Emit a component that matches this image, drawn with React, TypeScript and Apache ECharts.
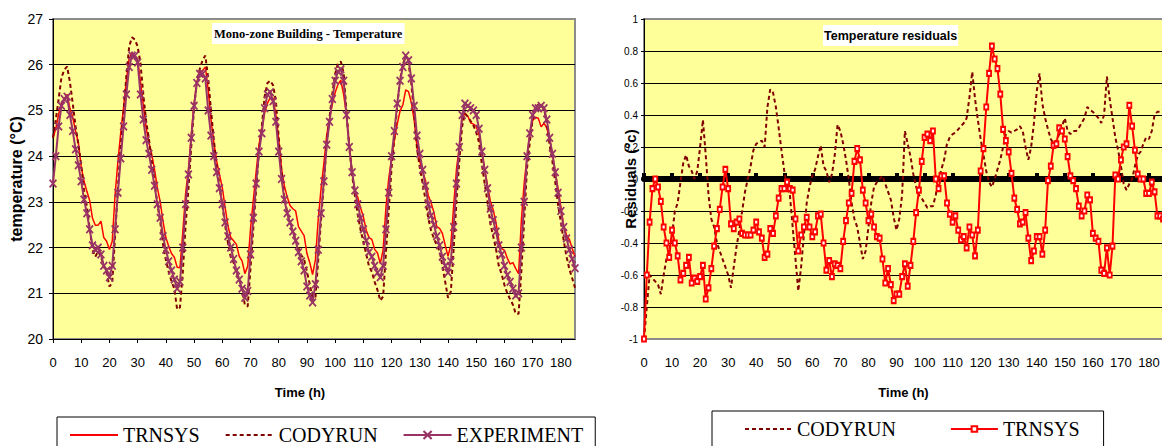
import React, { useEffect, useRef } from "react";
import * as echarts from "echarts";

const HOURS: string[] = Array.from({ length: 186 }, (_, i) => String(i));

const TEMP_TICKS = { min: 20, max: 27, interval: 1 };
const RES_TICKS = { min: -1, max: 1, interval: 0.2 };

const EXPERIMENT = [
  23.4, 24.0, 24.65, 25.1, 25.25, 25.3, 24.9, 24.55, 24.15, 23.8,
  23.45, 23.05, 22.75, 22.4, 22.05, 21.95, 22.0, 21.85, 21.6, 21.5,
  21.35, 21.6, 22.4, 23.2, 23.95, 24.65, 25.35, 25.95, 26.2, 26.2,
  26.05, 25.35, 24.8, 24.35, 24.05, 23.7, 23.35, 22.95, 22.65, 22.25,
  21.95, 21.7, 21.5, 21.3, 21.1, 21.25, 22.0, 22.95, 23.6, 24.4,
  25.1, 25.6, 25.8, 25.8, 25.7, 25.0, 24.45, 24.0, 23.65, 23.3,
  22.95, 22.55, 22.25, 22.0, 21.75, 21.5, 21.3, 21.1, 20.9, 21.05,
  21.85, 22.65, 23.4, 24.1, 24.5, 25.05, 25.35, 25.4, 25.2, 24.75,
  24.1, 23.5, 23.05, 22.75, 22.55, 22.35, 22.15, 21.9, 21.7, 21.5,
  21.15, 20.95, 20.8, 21.2, 21.95, 22.75, 23.45, 24.25, 24.75, 25.25,
  25.65, 25.85, 25.9, 25.65, 24.9, 24.2, 23.65, 23.25, 22.95, 22.65,
  22.4, 22.15, 21.9, 21.8, 21.6, 21.45, 21.35, 21.6, 22.4, 23.2,
  24.0, 24.55, 25.15, 25.65, 25.95, 26.2, 26.1, 25.7, 25.1, 24.45,
  24.05, 23.7, 23.35, 22.95, 22.7, 22.5, 22.25, 22.05, 21.8, 21.6,
  21.45, 21.7, 22.45, 23.4, 24.2, 24.9, 25.15, 25.1, 25.05, 25.0,
  24.9, 24.6, 24.1, 23.7, 23.3, 22.85, 22.6, 22.35, 22.05, 21.85,
  21.6, 21.4, 21.25, 21.1, 20.95, 21.0, 22.0, 23.0, 24.0, 24.5,
  24.9, 25.05, 25.05, 25.1, 25.05, 24.8, 24.4, 24.05, 23.65, 23.2,
  22.8, 22.45, 22.2, 21.95, 21.75, 21.55,
];

const TRNSYS = [
  24.4, 24.6, 24.92, 25.16, 25.25, 25.35, 25.04, 24.85, 24.55, 24.29,
  23.77, 23.45, 23.23, 23.03, 22.64, 22.49, 22.49, 22.58, 22.22, 22.14,
  21.96, 22.14, 23.15, 23.88, 24.51, 25.07, 25.66, 26.14, 26.25, 26.14,
  26.11, 25.63, 25.11, 24.62, 24.3, 24.04, 23.7, 23.3, 23.0, 22.57,
  22.22, 22.03, 21.87, 21.79, 21.57, 21.56, 22.34, 23.18, 23.72, 24.46,
  25.16, 25.62, 25.86, 25.87, 25.95, 25.45, 24.8, 24.3, 23.89, 23.6,
  23.31, 22.88, 22.48, 22.22, 22.15, 22.07, 21.81, 21.71, 21.43, 21.59,
  22.41, 23.04, 23.66, 24.25, 24.59, 24.94, 25.16, 25.28, 25.27, 24.9,
  24.36, 23.72, 23.35, 23.11, 22.92, 22.85, 22.8, 22.46, 22.36, 22.26,
  21.87, 21.67, 21.41, 21.73, 22.62, 23.29, 23.84, 24.46, 24.82, 25.14,
  25.39, 25.57, 25.66, 25.35, 24.9, 24.26, 23.63, 23.23, 23.1, 22.87,
  22.67, 22.38, 22.22, 22.18, 21.96, 21.88, 21.65, 21.95, 22.88, 23.52,
  23.95, 24.36, 24.7, 24.99, 25.12, 25.45, 25.41, 25.17, 24.79, 24.21,
  23.88, 23.67, 23.47, 23.14, 22.98, 22.77, 22.46, 22.42, 22.31, 22.05,
  21.81, 22.06, 22.92, 23.72, 24.21, 24.82, 24.94, 24.88, 24.73, 24.7,
  24.65, 24.46, 24.08, 23.71, 23.36, 23.02, 22.83, 22.55, 22.15, 21.98,
  21.94, 21.77, 21.64, 21.67, 21.54, 21.43, 22.6, 23.42, 23.98, 24.5,
  24.78, 24.85, 24.83, 24.64, 24.72, 24.62, 24.37, 24.05, 23.65, 23.29,
  22.89, 22.47, 22.28, 22.18, 21.98, 21.8,
];

const CODYRUN = [
  24.4, 24.8, 25.25, 25.72, 25.89, 25.96, 25.62, 25.15, 24.65, 24.25,
  23.8, 23.25, 22.9, 22.42, 21.95, 21.8, 21.92, 21.8, 21.6, 21.45,
  21.15, 21.23, 22.25, 23.3, 24.2, 24.95, 25.75, 26.4, 26.6, 26.55,
  26.4, 26.03, 25.35, 24.77, 24.37, 23.9, 23.43, 22.95, 22.57, 22.07,
  21.73, 21.47, 21.26, 21.1, 20.65, 20.69, 21.46, 22.5, 23.28, 24.22,
  25.05, 25.65, 25.9, 26.1, 26.2, 25.7, 25.0, 24.35, 23.8, 23.35,
  22.93, 22.49, 22.11, 21.79, 21.67, 21.45, 21.32, 21.07, 20.75, 20.71,
  21.55, 22.43, 23.28, 24.1, 24.65, 25.3, 25.6, 25.65, 25.55, 25.2,
  24.4, 23.65, 23.1, 22.77, 22.55, 22.33, 22.18, 21.98, 21.83, 21.74,
  21.47, 21.2, 20.9, 20.9, 21.73, 22.61, 23.42, 24.3, 24.85, 25.37,
  25.8, 26.03, 26.07, 25.82, 25.0, 24.2, 23.59, 23.13, 22.73, 22.39,
  22.12, 21.86, 21.59, 21.47, 21.25, 21.07, 20.84, 20.93, 21.9, 22.83,
  23.75, 24.4, 25.1, 25.67, 26.0, 26.2, 26.04, 25.58, 24.9, 24.17,
  23.75, 23.41, 23.05, 22.64, 22.37, 22.2, 22.05, 21.93, 21.6, 21.25,
  20.9, 21.04, 21.98, 23.02, 23.89, 24.65, 24.93, 24.86, 24.77, 24.67,
  24.52, 24.3, 23.82, 23.4, 23.0, 22.53, 22.25, 21.97, 21.6, 21.42,
  21.18, 21.0, 20.87, 20.75, 20.55, 20.55, 21.5, 22.62, 23.74, 24.32,
  24.82, 25.08, 25.12, 25.13, 25.05, 24.72, 24.25, 23.88, 23.43, 22.94,
  22.55, 22.15, 21.8, 21.53, 21.33, 21.12,
];

const CODYRUN_RESIDUAL = [
  -1.0, -0.8, -0.6, -0.62, -0.64, -0.66, -0.72, -0.6, -0.5, -0.45,
  -0.35, -0.2, -0.15, -0.02, 0.1, 0.15, 0.08, 0.05, 0.0, 0.05,
  0.2, 0.37, 0.15, -0.1, -0.25, -0.3, -0.4, -0.45, -0.5, -0.55,
  -0.6, -0.68, -0.55, -0.42, -0.32, -0.2, -0.08, 0.0, 0.08, 0.18,
  0.22, 0.23, 0.24, 0.2, 0.45, 0.56, 0.54, 0.45, 0.32, 0.18,
  0.05, -0.05, -0.1, -0.3, -0.5, -0.7, -0.55, -0.35, -0.15, -0.05,
  0.02, 0.06, 0.14, 0.21, 0.08, 0.05, -0.02, 0.03, 0.15, 0.34,
  0.3, 0.22, 0.12, 0.0, -0.15, -0.25, -0.3, -0.4, -0.5, -0.45,
  -0.3, -0.15, -0.05, -0.02, 0.0, 0.02, -0.03, -0.08, -0.13, -0.24,
  -0.32, -0.25, -0.1, 0.3, 0.22, 0.14, 0.03, -0.05, -0.1, -0.12,
  -0.15, -0.18, -0.17, -0.17, -0.1, 0.0, 0.06, 0.12, 0.22, 0.26,
  0.28, 0.29, 0.31, 0.33, 0.35, 0.38, 0.51, 0.67, 0.5, 0.37,
  0.25, 0.15, 0.05, -0.02, -0.05, 0.0, 0.06, 0.12, 0.2, 0.28,
  0.3, 0.29, 0.3, 0.31, 0.33, 0.3, 0.2, 0.12, 0.2, 0.35,
  0.55, 0.66, 0.47, 0.38, 0.31, 0.25, 0.22, 0.24, 0.28, 0.33,
  0.38, 0.3, 0.28, 0.3, 0.3, 0.32, 0.35, 0.38, 0.45, 0.43,
  0.42, 0.4, 0.38, 0.35, 0.4, 0.64, 0.5, 0.38, 0.26, 0.18,
  0.08, -0.03, -0.07, -0.03, 0.0, 0.08, 0.15, 0.17, 0.22, 0.26,
  0.25, 0.3, 0.4, 0.42, 0.42, 0.43,
];

const TRNSYS_RESIDUAL = [
  -1.0, -0.6, -0.27, -0.06, 0.0, -0.05, -0.14, -0.3, -0.4, -0.49,
  -0.32, -0.4, -0.48, -0.63, -0.59, -0.54, -0.49, -0.65, -0.62, -0.64,
  -0.61, -0.54, -0.75, -0.68, -0.56, -0.42, -0.31, -0.19, -0.05, 0.06,
  -0.06, -0.28, -0.31, -0.27, -0.25, -0.34, -0.35, -0.35, -0.35, -0.32,
  -0.27, -0.33, -0.37, -0.49, -0.47, -0.31, -0.34, -0.23, -0.12, -0.06,
  -0.06, -0.02, -0.06, -0.07, -0.25, -0.45, -0.35, -0.3, -0.24, -0.3,
  -0.36, -0.33, -0.23, -0.22, -0.4, -0.57, -0.51, -0.61, -0.53, -0.54,
  -0.56, -0.39, -0.26, -0.15, -0.09, 0.11, 0.19, 0.12, -0.07, -0.15,
  -0.26, -0.22, -0.3, -0.36, -0.37, -0.5, -0.65, -0.56, -0.66, -0.76,
  -0.72, -0.72, -0.61, -0.53, -0.67, -0.54, -0.39, -0.21, -0.07, 0.11,
  0.26, 0.28, 0.24, 0.3, 0.0, -0.06, 0.02, 0.02, -0.15, -0.22,
  -0.27, -0.23, -0.32, -0.38, -0.36, -0.43, -0.3, -0.35, -0.48, -0.32,
  0.05, 0.19, 0.45, 0.66, 0.83, 0.75, 0.69, 0.53, 0.31, 0.24,
  0.17, 0.035, -0.12, -0.19, -0.28, -0.27, -0.21, -0.37, -0.51, -0.45,
  -0.36, -0.36, -0.47, -0.32, -0.01, 0.08, 0.21, 0.22, 0.32, 0.3,
  0.25, 0.14, 0.02, -0.01, -0.06, -0.17, -0.23, -0.2, -0.1, -0.13,
  -0.34, -0.37, -0.39, -0.57, -0.59, -0.43, -0.6, -0.42, 0.025, 0.0,
  0.12, 0.2, 0.22, 0.46, 0.33, 0.18, 0.03, 0.0, 0.0, -0.09,
  -0.09, -0.02, -0.08, -0.23, -0.23, -0.25,
];

const SANS = "'Liberation Sans', Arial, sans-serif";
const SERIF = "'Liberation Serif', 'Times New Roman', serif";

const X_MARK = "path://M0,1.5L1.5,0L5,3.5L8.5,0L10,1.5L6.5,5L10,8.5L8.5,10L5,6.5L1.5,10L0,8.5L3.5,5Z";
const NO_MARK = { color: "rgba(0,0,0,0)", borderColor: "rgba(0,0,0,0)", borderWidth: 0, opacity: 0 };

function buildOption() {
  const gridBox = {
    show: true,
    backgroundColor: "#FFFF99",
    borderColor: "#8c8c8c",
    borderWidth: 2,
    containLabel: false,
    outerBoundsMode: "none",
  };
  const xLabel = { interval: 9, fontFamily: SANS, fontSize: 13, color: "#000", margin: 17 };
  const xName = { fontFamily: SANS, fontSize: 13, fontWeight: "bold", color: "#000" };
  return {
    animation: false,
    backgroundColor: "#ffffff",
    title: [
      {
        text: "Mono-zone Building - Temperature",
        left: 212,
        top: 23,
        backgroundColor: "#ffffff",
        padding: [4, 2, 4, 2],
        textStyle: { fontFamily: SERIF, fontWeight: "bold", fontSize: 12.5, color: "#000" },
      },
      {
        text: "Temperature residuals",
        left: 823,
        top: 25,
        backgroundColor: "#ffffff",
        padding: [4, 1, 4, 1],
        textStyle: { fontFamily: SANS, fontWeight: "bold", fontSize: 12.5, color: "#000" },
      },
    ],
    legend: [
      {
        data: [
          { name: "TRNSYS", itemStyle: NO_MARK },
          { name: "CODYRUN", itemStyle: NO_MARK },
          { name: "EXPERIMENT" },
        ],
        left: 57,
        top: 417,
        padding: [8, 12, 8, 12],
        itemGap: 25,
        itemWidth: 48,
        itemHeight: 12,
        borderColor: "#000",
        borderWidth: 1,
        textStyle: { fontFamily: SERIF, fontSize: 20, color: "#000" },
      },
      {
        data: [{ name: "CODYRUN residual", itemStyle: NO_MARK }, { name: "TRNSYS residual" }],
        formatter: (n: string) => n.split(" ")[0],
        left: 712,
        top: 411,
        padding: [8, 24, 8, 32],
        itemGap: 54,
        itemWidth: 47,
        itemHeight: 7,
        borderColor: "#000",
        borderWidth: 1,
        textStyle: { fontFamily: SERIF, fontSize: 20, color: "#000" },
      },
    ],
    grid: [
      { ...gridBox, left: 53, top: 19, right: 597, bottom: 107 },
      { ...gridBox, left: 644, top: 19, right: 9, bottom: 107 },
    ],
    xAxis: [
      {
        gridIndex: 0,
        type: "category",
        data: HOURS,
        boundaryGap: false,
        axisLine: { show: true, lineStyle: { color: "#000", width: 1 } },
        axisTick: { show: true, interval: 9, length: 4, lineStyle: { color: "#000" } },
        axisLabel: xLabel,
        name: "Time (h)",
        nameLocation: "middle",
        nameGap: 47,
        nameMoveOverlap: false,
        nameTextStyle: { ...xName, padding: [0, 28, 0, 0] },
      },
      {
        gridIndex: 1,
        type: "category",
        position: "bottom",
        data: HOURS,
        boundaryGap: false,
        axisLine: { show: false, onZero: false },
        axisTick: { show: false },
        axisLabel: xLabel,
        name: "Time (h)",
        nameLocation: "middle",
        nameGap: 47,
        nameMoveOverlap: false,
        nameTextStyle: xName,
      },
      {
        gridIndex: 1,
        type: "category",
        position: "bottom",
        data: HOURS,
        boundaryGap: false,
        axisLine: { show: true, onZero: true, lineStyle: { color: "#000", width: 6 } },
        axisTick: { show: true, interval: 9, inside: true, length: 6, lineStyle: { color: "#000", width: 4 } },
        axisLabel: { show: false },
      },
    ],
    yAxis: [
      {
        gridIndex: 0,
        type: "value",
        ...TEMP_TICKS,
        axisLine: { show: true, lineStyle: { color: "#000" } },
        axisTick: { show: true, length: 4, lineStyle: { color: "#000" } },
        axisLabel: { fontFamily: SANS, fontSize: 14, color: "#000", margin: 10 },
        splitLine: { show: true, showMinLine: false, showMaxLine: false, lineStyle: { color: "#000", width: 1 } },
        name: "temperature (°C)",
        nameLocation: "middle",
        nameGap: 29,
        nameMoveOverlap: false,
        nameTextStyle: { fontFamily: SANS, fontSize: 16, fontWeight: "bold", color: "#000" },
      },
      {
        gridIndex: 1,
        type: "value",
        ...RES_TICKS,
        axisLine: { show: true, lineStyle: { color: "#000" } },
        axisTick: { show: true, length: 3, lineStyle: { color: "#000" } },
        axisLabel: { fontFamily: SANS, fontSize: 10, color: "#000", margin: 6 },
        splitLine: { show: true, showMinLine: false, showMaxLine: false, lineStyle: { color: "#000", width: 1 } },
        name: "Residuals (°c)",
        nameLocation: "middle",
        nameGap: 6,
        nameMoveOverlap: false,
        nameTextStyle: { fontFamily: SANS, fontSize: 15, fontWeight: "bold", color: "#000" },
      },
    ],
    series: [
      {
        name: "TRNSYS",
        type: "line",
        xAxisIndex: 0,
        yAxisIndex: 0,
        data: TRNSYS,
        symbol: "none",
        color: "#FF0000",
        lineStyle: { color: "#FF0000", width: 1.5 },
      },
      {
        name: "CODYRUN",
        type: "line",
        xAxisIndex: 0,
        yAxisIndex: 0,
        data: CODYRUN,
        symbol: "none",
        color: "#800000",
        lineStyle: { color: "#800000", width: 2, type: [4, 3] },
      },
      {
        name: "EXPERIMENT",
        type: "line",
        xAxisIndex: 0,
        yAxisIndex: 0,
        data: EXPERIMENT,
        symbol: X_MARK,
        symbolSize: [8, 9],
        showAllSymbol: true,
        color: "#993366",
        itemStyle: { color: "#993366" },
        lineStyle: { color: "#993366", width: 2 },
      },
      {
        name: "CODYRUN residual",
        type: "line",
        xAxisIndex: 1,
        yAxisIndex: 1,
        data: CODYRUN_RESIDUAL,
        symbol: "none",
        color: "#800000",
        lineStyle: { color: "#800000", width: 2, type: [4, 3] },
      },
      {
        name: "TRNSYS residual",
        type: "line",
        xAxisIndex: 1,
        yAxisIndex: 1,
        data: TRNSYS_RESIDUAL,
        symbol: "emptyRect",
        symbolSize: [4, 5],
        showAllSymbol: true,
        color: "#FF0000",
        itemStyle: { color: "#FF0000", borderWidth: 1.2 },
        lineStyle: { color: "#FF0000", width: 2 },
      },
    ],
  };
}

export default function App() {
  const ref = useRef<HTMLDivElement>(null);
  useEffect(() => {
    if (!ref.current) return;
    const chart = echarts.init(ref.current, null, { renderer: "svg" });
    chart.setOption(buildOption() as any);
    return () => chart.dispose();
  }, []);
  return (
    <div
      style={{
        position: "fixed",
        left: 0,
        top: 0,
        width: 1162,
        height: 446,
        overflow: "hidden",
        background: "#fff",
      }}
    >
      <div ref={ref} style={{ width: 1172, height: 446 }} />
    </div>
  );
}
